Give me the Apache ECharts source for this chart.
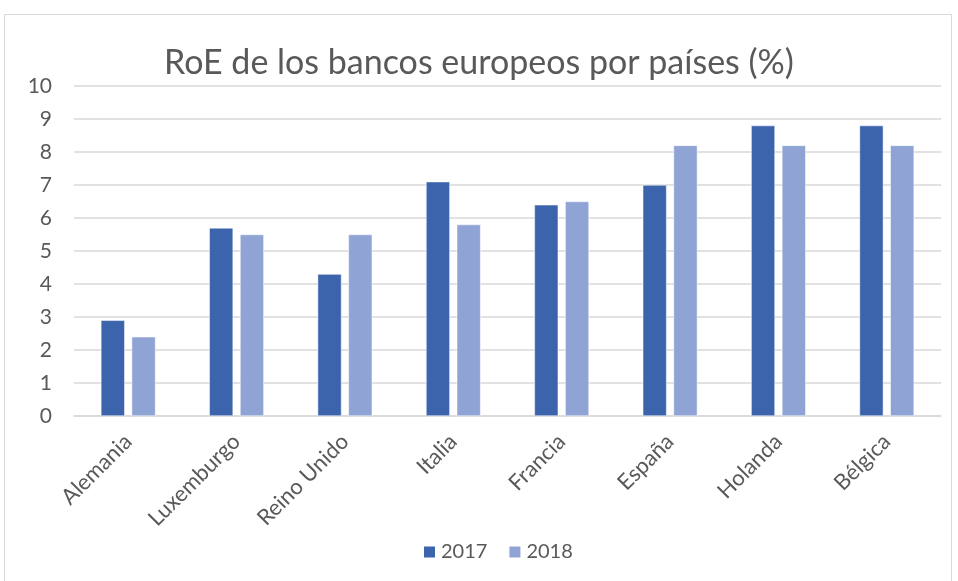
<!DOCTYPE html>
<html>
<head>
<meta charset="utf-8">
<script src="https://cdn.jsdelivr.net/npm/echarts@6/dist/echarts.min.js"></script>
<style>
  html, body { margin: 0; padding: 0; background: #fff; }
  #chart { width: 958px; height: 581px; }
</style>
</head>
<body>
<div id="chart"></div>
<script>
// datos
const paises = ['Alemania', 'Luxemburgo', 'Reino Unido', 'Italia', 'Francia', 'España', 'Holanda', 'Bélgica'];
const roe2017 = [2.9, 5.7, 4.3, 7.1, 6.4, 7.0, 8.8, 8.8];
const roe2018 = [2.4, 5.5, 5.5, 5.8, 6.5, 8.2, 8.2, 8.2];
const yTicks = [0, 1, 2, 3, 4, 5, 6, 7, 8, 9, 10];

const fuente = 'Lato, "Open Sans", sans-serif';
const gris = '#595959';

const myChart = echarts.init(document.getElementById('chart'));
const option = {
  animation: false,
  textStyle: { fontFamily: fuente },
  graphic: [{
    type: 'rect',
    shape: { x: 4.5, y: 14.5, width: 947, height: 580 },
    style: { fill: 'none', stroke: '#d9d9d9', lineWidth: 1 },
    silent: true
  }],
  title: {
    text: 'RoE de los bancos europeos por países (%)',
    left: 'center',
    top: 41,
    textStyle: { fontFamily: fuente, fontSize: 34, fontWeight: 'normal', color: gris }
  },
  legend: {
    bottom: 14,
    left: 417,
    itemWidth: 13,
    itemHeight: 13,
    itemGap: 20,
    icon: 'rect',
    textStyle: { fontFamily: fuente, fontSize: 20, color: gris },
    data: ['2017', '2018']
  },
  grid: { left: 74, right: 17, top: 86, bottom: 165 },
  xAxis: {
    type: 'category',
    data: paises,
    axisLine: { lineStyle: { color: '#d9d9d9', width: 1.5 } },
    axisTick: { show: false },
    axisLabel: { rotate: 45, fontSize: 22, color: gris, margin: 22, fontFamily: fuente }
  },
  yAxis: {
    type: 'value',
    min: yTicks[0],
    max: yTicks[yTicks.length - 1],
    interval: 1,
    axisLine: { show: false },
    axisTick: { show: false },
    axisLabel: { fontSize: 21, color: gris, margin: 22, fontFamily: fuente },
    splitLine: { lineStyle: { color: '#d9d9d9', width: 1.5 } }
  },
  series: [
    {
      name: '2017',
      type: 'bar',
      data: roe2017,
      barWidth: '22%',
      barGap: '29%',
      itemStyle: { color: '#3c64ac', borderColor: '#ffffff', borderWidth: 0.5 }
    },
    {
      name: '2018',
      type: 'bar',
      data: roe2018,
      barWidth: '22%',
      itemStyle: { color: '#8fa4d4', borderColor: '#ffffff', borderWidth: 0.5 }
    }
  ]
};
option && myChart.setOption(option);
</script>
</body>
</html>
